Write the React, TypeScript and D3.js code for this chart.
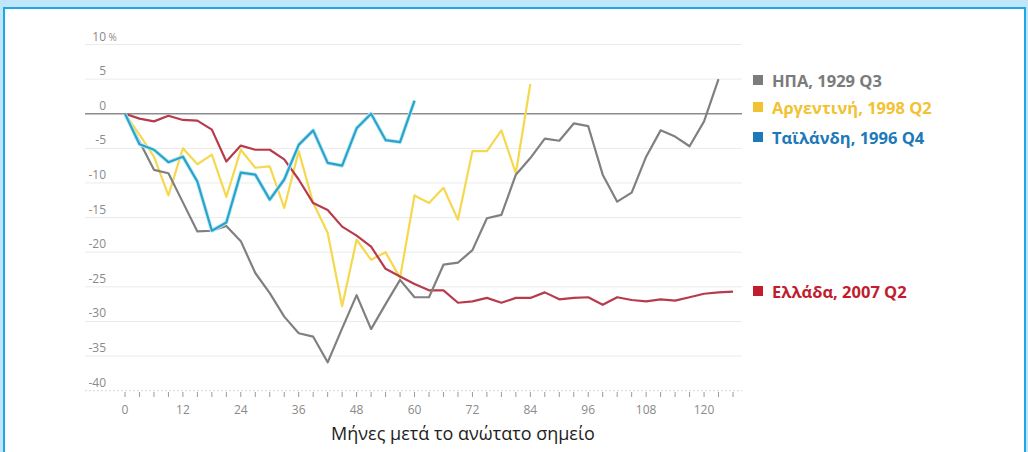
import React, { useEffect, useRef } from "react";
import * as d3 from "d3";

// months after the peak, one point per quarter
const months = d3.range(0, 127, 3);

const usa = [
  0, -4, -8.1, -8.6, -12.8, -17, -16.9, -16.2, -18.4, -23, -25.9, -29.3, -31.7,
  -32.2, -35.9, -31, -26.2, -31.1, -27.5, -24, -26.5, -26.5, -21.8, -21.5,
  -19.7, -15.1, -14.6, -8.8, -6.4, -3.6, -3.9, -1.4, -1.8, -8.8, -12.7, -11.4,
  -6.2, -2.4, -3.3, -4.7, -1.1, 5,
];
const argentina = [
  0, -3, -6.2, -11.8, -5, -7.3, -5.9, -12, -5.2, -7.8, -7.6, -13.6, -5.4,
  -12.9, -17.2, -27.8, -18.2, -21.1, -20, -23.7, -11.8, -12.9, -10.7, -15.3,
  -5.4, -5.4, -2.4, -8.6, 4.3,
];
const thailand = [
  0, -4.4, -5.2, -7, -6.2, -9.8, -16.9, -15.7, -8.5, -8.8, -12.4, -9.5, -4.5,
  -2.4, -7.1, -7.5, -2.1, 0, -3.8, -4.1, 1.9,
];
const greece = [
  0, -0.7, -1.1, -0.3, -0.9, -1, -2.3, -6.9, -4.6, -5.2, -5.2, -6.6, -9.5,
  -12.9, -13.9, -16.3, -17.6, -19.2, -22.4, -23.5, -24.6, -25.5, -25.5, -27.3,
  -27.1, -26.6, -27.3, -26.6, -26.6, -25.8, -26.8, -26.6, -26.5, -27.6, -26.5,
  -26.9, -27.1, -26.8, -27, -26.5, -26, -25.8, -25.7,
];

const seriesNames = [
  "ΗΠΑ, 1929 Q3",
  "Αργεντινή, 1998 Q2",
  "Ταϊλάνδη, 1996 Q4",
  "Ελλάδα, 2007 Q2",
];
const yTicks = [10, 5, 0, -5, -10, -15, -20, -25, -30, -35, -40];
const xLabels = [0, 12, 24, 36, 48, 60, 72, 84, 96, 108, 120];
const xTitle = "Μήνες μετά το ανώτατο σημείο";

const lineColors = ["#808080", "#f6d84f", "#2ba3c9", "#b73b4d"];
const legendColors = ["#7b7b7b", "#f2c232", "#1d79b8", "#c11d2e"];
const legendY = [81, 108, 138, 292];

const App = () => {
  const ref = useRef(null);

  useEffect(() => {
    const width = 1028;
    const height = 452;
    const font = "'Open Sans', 'Noto Sans', sans-serif";

    d3.select(ref.current).selectAll("*").remove();
    const svg = d3
      .select(ref.current)
      .append("svg")
      .attr("width", width)
      .attr("height", height)
      .style("display", "block");

    // frame
    svg.append("rect").attr("width", width).attr("height", height).attr("fill", "#bfe6f9");
    svg
      .append("rect")
      .attr("x", 4)
      .attr("y", 8)
      .attr("width", width - 7)
      .attr("height", height + 10)
      .attr("fill", "#fff")
      .attr("stroke", "#1ea7e4")
      .attr("stroke-width", 2);

    const x = d3.scaleLinear().domain([0, 126]).range([125, 733]);
    const y = d3.scaleLinear().domain([-40, 10]).range([390.7, 44.5]);
    const gridX0 = 85;
    const gridX1 = 742;

    // grid lines
    svg
      .append("g")
      .selectAll("line")
      .data(yTicks.filter((t) => t !== 0))
      .enter()
      .append("line")
      .attr("x1", gridX0)
      .attr("x2", gridX1)
      .attr("y1", (d) => y(d))
      .attr("y2", (d) => y(d))
      .style("stroke", (d) => (d === -40 ? "#d6d6d6" : "#ebebeb"))
      .style("stroke-dasharray", (d) => (d === -40 ? "2,2" : null))
      .style("stroke-width", "1px");

    // y labels
    svg
      .append("g")
      .selectAll("text")
      .data(yTicks)
      .enter()
      .append("text")
      .attr("x", 106)
      .attr("y", (d) => y(d) - 4)
      .attr("text-anchor", "end")
      .style("font-family", font)
      .style("font-size", "12px")
      .style("fill", "#8a8a8a")
      .text((d) => d);
    svg
      .append("text")
      .attr("x", 108.5)
      .attr("y", y(10) - 4)
      .style("font-family", font)
      .style("font-size", "10px")
      .style("fill", "#8a8a8a")
      .text("%");

    // x ticks
    svg
      .append("g")
      .selectAll("line")
      .data(months)
      .enter()
      .append("line")
      .attr("x1", (d) => x(d))
      .attr("x2", (d) => x(d))
      .attr("y1", 392)
      .attr("y2", 397)
      .style("stroke", "#9a9a9a")
      .style("stroke-width", "1px");

    svg
      .append("g")
      .selectAll("text")
      .data(xLabels)
      .enter()
      .append("text")
      .attr("x", (d) => x(d))
      .attr("y", 414)
      .attr("text-anchor", "middle")
      .style("font-family", font)
      .style("font-size", "12px")
      .style("fill", "#8a8a8a")
      .text((d) => d);

    svg
      .append("text")
      .attr("x", 463)
      .attr("y", 440)
      .attr("text-anchor", "middle")
      .style("font-family", font)
      .style("font-size", "18px")
      .style("fill", "#222")
      .text(xTitle);

    // zero line
    svg
      .append("line")
      .attr("x1", gridX0)
      .attr("x2", gridX1)
      .attr("y1", y(0))
      .attr("y2", y(0))
      .style("stroke", "#8c8c8c")
      .style("stroke-width", "1.6px");

    // series
    const allSeries = [usa, argentina, thailand, greece];
    const line = d3
      .line<number>()
      .x((d, i) => x(months[i]))
      .y((d) => y(d));

    const drawOrder = [1, 3, 0, 2];
    drawOrder.forEach((s) => {
      if (s === 2) {
        svg
          .append("path")
          .attr("d", line(allSeries[s]))
          .style("fill", "none")
          .style("stroke", "#bfeaf7")
          .style("stroke-width", "4px")
          .style("stroke-linejoin", "round");
      }
      svg
        .append("path")
        .attr("d", line(allSeries[s]))
        .style("fill", "none")
        .style("stroke", lineColors[s])
        .style("stroke-width", "2.2px")
        .style("stroke-linejoin", "round");
    });

    // legend
    const legend = svg
      .append("g")
      .selectAll("g")
      .data(seriesNames)
      .enter()
      .append("g")
      .attr("transform", (d, i) => `translate(753,${legendY[i]})`);

    legend
      .append("rect")
      .attr("x", 0)
      .attr("y", -6)
      .attr("width", 10)
      .attr("height", 10)
      .style("fill", (d, i) => legendColors[i]);

    legend
      .append("text")
      .attr("x", 19)
      .attr("y", 5.5)
      .style("font-family", font)
      .style("font-size", "16.5px")
      .style("font-weight", "bold")
      .style("fill", (d, i) => legendColors[i])
      .text((d) => d);
  }, []);

  return (
    <div
      ref={ref}
      style={{ position: "absolute", left: 0, top: 0, width: 1028, height: 452 }}
    ></div>
  );
};

export default App;
